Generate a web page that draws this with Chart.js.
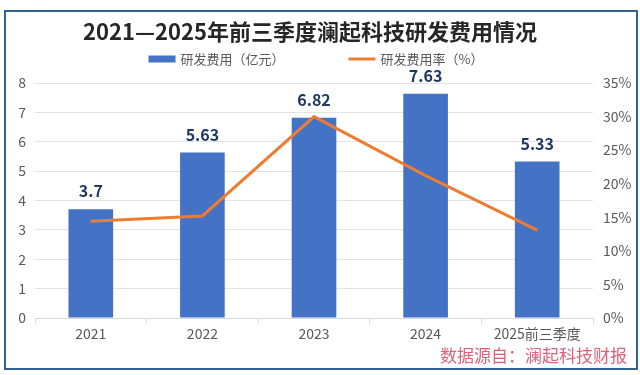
<!DOCTYPE html>
<html><head><meta charset="utf-8">
<script src="https://cdn.jsdelivr.net/npm/chart.js@4/dist/chart.umd.min.js"></script>
<style>
html,body{margin:0;padding:0;background:#fff;}
#wrap{position:relative;width:640px;height:375px;overflow:hidden;}
#c{position:absolute;left:0;top:0;}
#frame{position:absolute;left:4px;top:10px;width:634px;height:360px;border:2px solid #2f6290;box-sizing:border-box;pointer-events:none;}
#src{position:absolute;right:13px;top:344px;font:17px "Noto Sans CJK SC",sans-serif;color:#e0607a;line-height:22px;white-space:nowrap;}
</style></head>
<body>
<div id="wrap">
<canvas id="c" width="640" height="375"></canvas>
<div id="frame"></div>
<div id="src">数据源自：澜起科技财报</div>
</div>
<script>
const categories = ['2021', '2022', '2023', '2024', '2025前三季度'];
const rdExpense = [3.7, 5.63, 6.82, 7.63, 5.33];
const rdRatio = [14.4, 15.2, 30.0, 21.2, 13.1];
const leftTicks = [0, 1, 2, 3, 4, 5, 6, 7, 8];
const rightTicks = [0, 5, 10, 15, 20, 25, 30, 35];
const seriesNames = ['研发费用（亿元）', '研发费用率（%）'];
const titleText = '2021—2025年前三季度澜起科技研发费用情况';

const FONT = '"Noto Sans CJK SC", "Noto Sans", sans-serif';
const BLUE = '#4472c4', ORANGE = '#ed7d31';

const labelPlugin = {
  id: 'barLabels',
  afterDatasetsDraw(chart) {
    const ctx = chart.ctx;
    const meta = chart.getDatasetMeta(0);
    ctx.save();
    ctx.font = 'bold 16px ' + FONT;
    ctx.fillStyle = '#203864';
    ctx.textAlign = 'center';
    ctx.textBaseline = 'middle';
    meta.data.forEach((bar, i) => {
      ctx.fillText(String(rdExpense[i]), bar.x, bar.y - 18);
    });
    ctx.restore();
  }
};

const headerPlugin = {
  id: 'header',
  afterDraw(chart) {
    const ctx = chart.ctx;
    ctx.save();
    ctx.font = 'bold 22px ' + FONT;
    ctx.fillStyle = '#262626';
    ctx.textAlign = 'center';
    ctx.textBaseline = 'middle';
    ctx.fillText(titleText, 310, 32);
    ctx.textAlign = 'left';
    ctx.font = '13px ' + FONT;
    const y = 59;
    const sw = 27, g = 5, gap = 64;
    const w1 = ctx.measureText(seriesNames[0]).width;
    const w2 = ctx.measureText(seriesNames[1]).width;
    const total = sw + g + w1 + gap + sw + g + w2;
    let x = 316 - total / 2;
    ctx.fillStyle = BLUE;
    ctx.fillRect(x, y - 3.5, sw, 7);
    ctx.fillStyle = '#595959';
    ctx.fillText(seriesNames[0], x + sw + g, y);
    x += sw + g + w1 + gap;
    ctx.strokeStyle = ORANGE;
    ctx.lineWidth = 3;
    ctx.beginPath();
    ctx.moveTo(x, y); ctx.lineTo(x + sw, y); ctx.stroke();
    ctx.fillText(seriesNames[1], x + sw + g, y);
    ctx.restore();
  }
};

new Chart(document.getElementById('c'), {
  data: {
    labels: categories,
    datasets: [
      { type: 'bar', label: seriesNames[0], data: rdExpense, backgroundColor: BLUE, borderWidth: 0,
        yAxisID: 'y', order: 1, barPercentage: 0.8, categoryPercentage: 0.5 },
      { type: 'line', label: seriesNames[1], data: rdRatio, borderColor: ORANGE, backgroundColor: ORANGE,
        borderWidth: 3, pointRadius: 0, tension: 0, yAxisID: 'y1', order: 0 }
    ]
  },
  options: {
    responsive: false,
    animation: false,
    layout: { padding: { top: 83, left: 0, right: 0, bottom: 27 } },
    plugins: {
      legend: { display: false },
      tooltip: { enabled: false },
      title: { display: false }
    },
    scales: {
      x: {
        grid: { display: true, drawOnChartArea: false, drawTicks: true, tickLength: 5, color: '#d9d9d9', offset: true },
        border: { display: true, color: '#d9d9d9' },
        ticks: { color: '#595959', font: { family: FONT, size: 14 }, padding: 2, maxRotation: 0, autoSkip: false },
        afterFit(s) { s.height = 30; }
      },
      y: {
        position: 'left', min: 0, max: 8,
        afterBuildTicks(s) { s.ticks = leftTicks.map(v => ({ value: v })); },
        grid: { color: '#e3e3e3', drawTicks: false },
        border: { display: false },
        ticks: { color: '#595959', font: { family: FONT, size: 14 }, padding: 9 },
        afterFit(s) { s.width = 35; }
      },
      y1: {
        position: 'right', min: 0, max: 35,
        afterBuildTicks(s) { s.ticks = rightTicks.map(v => ({ value: v })); },
        grid: { display: false, drawTicks: false },
        border: { display: false },
        ticks: { color: '#595959', font: { family: FONT, size: 14 }, padding: 10, callback: v => v + '%' },
        afterFit(s) { s.width = 47; }
      }
    }
  },
  plugins: [labelPlugin, headerPlugin]
});
</script>
</body></html>
